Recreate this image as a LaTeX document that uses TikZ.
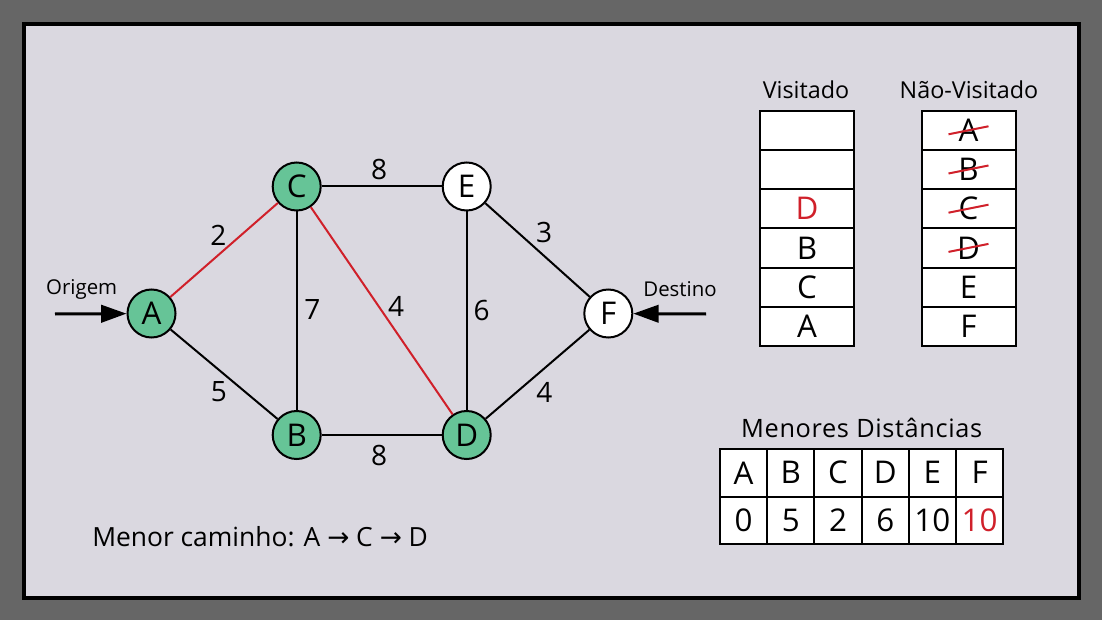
\documentclass[tikz,border=0pt]{standalone}
\usepackage{fontspec}
\setmainfont{Open Sans}
\newfontfamily\symfont{DejaVu Sans}
\usetikzlibrary{arrows.meta}
\definecolor{outerc}{HTML}{666666}
\definecolor{panelc}{HTML}{DAD8E0}
\definecolor{vgreen}{HTML}{66C497}
\definecolor{pred}{HTML}{D0202A}
\tikzset{
  vert/.style={circle, draw, line width=1.5pt, minimum size=36pt, inner sep=0pt, font=\fontsize{23.5}{23.5}\selectfont},
  vis/.style={vert, fill=vgreen},
  unvis/.style={vert, fill=white},
  edge/.style={line width=1.5pt},
  redge/.style={line width=1.5pt, draw=pred},
  wlabel/.style={font=\fontsize{21}{21}\selectfont},
  small/.style={font=\fontsize{15.3}{15.3}\selectfont},
  header/.style={font=\fontsize{17.5}{17.5}\selectfont},
  cell/.style={draw, fill=white, line width=1.5pt, minimum width=70.5pt, minimum height=29.4pt, inner sep=0pt, font=\fontsize{23.5}{23.5}\selectfont},
  dcell/.style={draw, fill=white, line width=1.5pt, minimum width=35.4pt, minimum height=35.6pt, inner sep=0pt, font=\fontsize{23.5}{23.5}\selectfont},
  strike/.style={draw=pred, line width=1.5pt},
  bigarrow/.style={line width=2.25pt, -{Triangle[length=19pt,width=13pt]}}
}
\begin{document}
\begin{tikzpicture}[x=0.75pt,y=-0.75pt]
\useasboundingbox (0,0) rectangle (1102,620);
\fill[outerc] (0,0) rectangle (1102,620);
\draw[line width=2.6pt, fill=panelc] (24,24) rectangle (1079,598);

% graph
\node[vis] (A) at (151.5,313.5) {A};
\node[vis] (C) at (296.7,186.5) {C};
\node[unvis] (E) at (466.7,186.5) {E};
\node[unvis] (F) at (608.3,313.5) {F};
\node[vis] (B) at (296.7,435) {B};
\node[vis] (D) at (466.7,435) {D};

\draw[redge] (A) -- (C);
\draw[redge] (C) -- (D);
\draw[edge] (A) -- (B);
\draw[edge] (C) -- (B);
\draw[edge] (C) -- (E);
\draw[edge] (E) -- (D);
\draw[edge] (E) -- (F);
\draw[edge] (B) -- (D);
\draw[edge] (D) -- (F);

\node[wlabel] (l1) at (379,170) {8};
\node[wlabel] (l2) at (218.3,235) {2};
\node[wlabel] (l3) at (544,232) {3};
\node[wlabel] (l4) at (312.5,310) {7};
\node[wlabel] (l5) at (396,306) {4};
\node[wlabel] (l6) at (481.7,310.7) {6};
\node[wlabel] (l7) at (219,392) {5};
\node[wlabel] (l8) at (544.3,392.7) {4};
\node[wlabel] (l9) at (379,455) {8};

\coordinate (ostart) at (55,314);
\draw[bigarrow] (ostart) -- (A);
\node[small] (orig) at (81.7,289) {Origem};
\coordinate (dstart) at (706,314);
\draw[bigarrow] (dstart) -- (F);
\node[small] (dest) at (680,289) {Destino};

% Visitado table
\node[header] (hv) at (806,90) {Visitado};
\node[cell] (v1) at (807,130.3) {};
\node[cell] (v2) at (807,169.5) {};
\node[cell, text=pred] (v3) at (807,208.7) {D};
\node[cell] (v4) at (807,247.9) {B};
\node[cell] (v5) at (807,287.1) {C};
\node[cell] (v6) at (807,326.3) {A};

% Nao-Visitado table
\node[header] (hn) at (969,90) {Não-Visitado};
\node[cell] (n1) at (968.5,130.3) {A};
\node[cell] (n2) at (968.5,169.5) {B};
\node[cell] (n3) at (968.5,208.7) {C};
\node[cell] (n4) at (968.5,247.9) {D};
\node[cell] (n5) at (968.5,287.1) {E};
\node[cell] (n6) at (968.5,326.3) {F};
\foreach \n in {n1,n2,n3,n4}{
  \draw[strike] ([xshift=-15pt,yshift=-3pt]\n.center) -- ([xshift=15pt,yshift=3pt]\n.center);
}

% Menores Distancias
\node[font=\fontsize{19}{19}\selectfont] (hm) at (861.7,428) {\addfontfeature{LetterSpace=2.5}Menores Distâncias};
\node[dcell] (m1) at (743.6,472.8) {A};
\node[dcell] (m2) at (790.8,472.8) {B};
\node[dcell] (m3) at (838,472.8) {C};
\node[dcell] (m4) at (885.2,472.8) {D};
\node[dcell] (m5) at (932.4,472.8) {E};
\node[dcell] (m6) at (979.6,472.8) {F};
\node[dcell] (d1) at (743.6,520.3) {0};
\node[dcell] (d2) at (790.8,520.3) {5};
\node[dcell] (d3) at (838,520.3) {2};
\node[dcell] (d4) at (885.2,520.3) {6};
\node[dcell] (d5) at (932.4,520.3) {10};
\node[dcell, text=pred] (d6) at (979.6,520.3) {10};

\node[anchor=west, inner sep=0pt, font=\fontsize{19.8}{19.8}\selectfont] (path) at (92,537) {Menor caminho: A {\symfont →} C {\symfont →} D};
\end{tikzpicture}
\end{document}
